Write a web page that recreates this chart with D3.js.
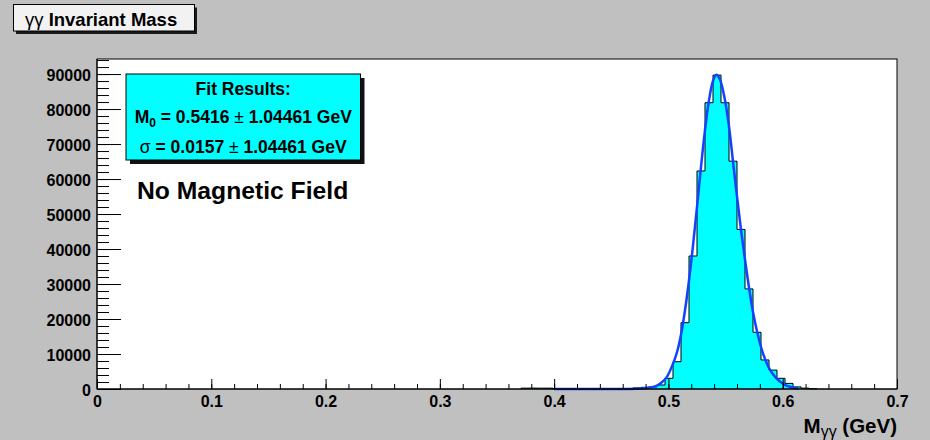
<!DOCTYPE html>
<html>
<head>
<meta charset="utf-8">
<script src="https://cdn.jsdelivr.net/npm/d3@7"></script>
<style>
  html, body { margin: 0; padding: 0; background: #c0c0c0; }
  svg { display: block; font-family: "Liberation Sans", Arial, Helvetica, sans-serif; }
</style>
</head>
<body>
<svg id="chart" width="930" height="440"></svg>
<script>
// ---- data ----
// diphoton invariant mass histogram, 0.007 GeV bins, first listed bin starts at 0.371 GeV
const binWidth = 0.007;
const firstBinLow = 0.371;
const binCounts = [
  250, 260, 240, 250, 30, 20, 20, 30, 20, 30, 40, 60, 90, 150, 300,
  480, 620, 1150, 3050, 7800, 18950, 38000, 62300, 81800, 89700, 81800,
  65100, 45600, 28600, 16200, 8300, 5400, 3050, 1600, 600, 250, 80
];

// fitted line shape (GeV, entries)
const fitMass = [
  0.400, 0.465, 0.475, 0.4825, 0.4895, 0.4935, 0.4985, 0.5035, 0.5075, 0.5110,
  0.5145, 0.5180, 0.5215, 0.5250, 0.5285, 0.5320, 0.5355, 0.5390, 0.5420, 0.5450,
  0.5495, 0.5530, 0.5565, 0.5600, 0.5635, 0.5670, 0.5705, 0.5740, 0.5775, 0.5810,
  0.5845, 0.5880, 0.5915, 0.5950, 0.5985, 0.6020, 0.6055, 0.6090, 0.6137
];
const fitCounts = [
  0, 30, 120, 350, 900, 1700, 3400, 6800, 10500, 15500,
  22500, 31000, 41000, 52000, 63500, 74000, 82500, 88000, 89800, 88500,
  82500, 75000, 65000, 55000, 45500, 37000, 29000, 22000, 16500, 12000,
  8600, 6000, 4200, 2900, 1900, 1200, 700, 380, 150
];

const xTickValues = [0, 0.1, 0.2, 0.3, 0.4, 0.5, 0.6, 0.7];
const yTickValues = [0, 10000, 20000, 30000, 40000, 50000, 60000, 70000, 80000, 90000];
const xMinorStep = 0.02;
const yMinorStep = 2000;
const xDomain = [0, 0.7];
const yDomain = [0, 94300];

const fitLines = [
  { label: "M", sub: "0", value: "0.5416", err: "1.04461" },
  { label: "σ", sub: "", value: "0.0157", err: "1.04461" }
];

// ---- layout ----
const frame = { left: 97, right: 897, top: 59, bottom: 389 };
const svg = d3.select("#chart");

const x = d3.scaleLinear().domain(xDomain).range([frame.left, frame.right]);
const y = d3.scaleLinear().domain(yDomain).range([frame.bottom, frame.top]);

// canvas background
svg.append("rect").attr("width", 930).attr("height", 440).attr("fill", "#c0c0c0");

// title pave
const title = svg.append("g");
title.append("rect").attr("x", 16).attr("y", 7.5).attr("width", 181).attr("height", 26.5).attr("fill", "#1a1a1a");
title.append("rect").attr("x", 13.5).attr("y", 4.5).attr("width", 181).attr("height", 26.5)
  .attr("fill", "#f2f2f2").attr("stroke", "#000").attr("stroke-width", 1);
const titleText = title.append("text").attr("x", 25).attr("y", 26).attr("font-size", 18.5).attr("fill", "#000");
titleText.append("tspan").attr("font-weight", "normal").text("γγ ");
titleText.append("tspan").attr("font-weight", "bold").text("Invariant Mass");

// frame
svg.append("rect")
  .attr("x", frame.left).attr("y", frame.top)
  .attr("width", frame.right - frame.left).attr("height", frame.bottom - frame.top)
  .attr("fill", "#fff");

// histogram as a filled step outline
const histPoints = [[firstBinLow, 0]];
binCounts.forEach((c, i) => {
  const lo = firstBinLow + i * binWidth;
  histPoints.push([lo, c], [lo + binWidth, c]);
});
histPoints.push([firstBinLow + binCounts.length * binWidth, 0]);

const stepLine = d3.line().x(d => x(d[0])).y(d => y(d[1]));
svg.append("path")
  .attr("d", stepLine(histPoints))
  .attr("fill", "#00ffff")
  .attr("stroke", "#000")
  .attr("stroke-width", 1);

// fit curve
const fitLine = d3.line()
  .x((d, i) => x(fitMass[i]))
  .y(d => y(d))
  .curve(d3.curveCatmullRom.alpha(0.5));
svg.append("path")
  .attr("d", fitLine(fitCounts))
  .attr("fill", "none")
  .attr("stroke", "#1440ff")
  .attr("stroke-width", 2.5)
  .attr("stroke-linejoin", "round");

// frame border
svg.append("rect")
  .attr("x", frame.left).attr("y", frame.top)
  .attr("width", frame.right - frame.left).attr("height", frame.bottom - frame.top)
  .attr("fill", "none").attr("stroke", "#000").attr("stroke-width", 1);

// axes: ticks point into the frame
const xMinor = d3.range(xDomain[0], xDomain[1] + 1e-9, xMinorStep);
const yMinor = d3.range(yDomain[0], yDomain[1], yMinorStep);

const xAxisMinor = d3.axisBottom(x).tickValues(xMinor).tickSizeInner(-5).tickSizeOuter(0).tickFormat("");
const xAxis = d3.axisBottom(x).tickValues(xTickValues).tickSizeInner(-10).tickSizeOuter(0)
  .tickPadding(7).tickFormat(d => d === 0 ? "0" : d3.format(".1f")(d));
const yAxisMinor = d3.axisLeft(y).tickValues(yMinor).tickSizeInner(-12).tickSizeOuter(0).tickFormat("");
const yAxis = d3.axisLeft(y).tickValues(yTickValues).tickSizeInner(-24).tickSizeOuter(0)
  .tickPadding(6).tickFormat(d3.format("d"));

function styleAxis(g) {
  g.select(".domain").remove();
  g.selectAll("line").attr("stroke", "#000").attr("stroke-width", 1);
  g.selectAll("text").attr("font-size", 16).attr("font-weight", "bold").attr("fill", "#000")
    .attr("font-family", "\"Liberation Sans\", Arial, Helvetica, sans-serif");
}

svg.append("g").attr("transform", `translate(0,${frame.bottom})`).call(xAxisMinor).call(styleAxis);
svg.append("g").attr("transform", `translate(0,${frame.bottom})`).call(xAxis).call(styleAxis);
svg.append("g").attr("transform", `translate(${frame.left},0)`).call(yAxisMinor).call(styleAxis);
const yg = svg.append("g").attr("transform", `translate(${frame.left},0)`).call(yAxis).call(styleAxis);
yg.selectAll("text").attr("dy", "0.42em");

// axis lines
svg.append("line").attr("x1", frame.left).attr("x2", frame.right).attr("y1", frame.bottom).attr("y2", frame.bottom)
  .attr("stroke", "#000");
svg.append("line").attr("x1", frame.left).attr("x2", frame.left).attr("y1", frame.top).attr("y2", frame.bottom)
  .attr("stroke", "#000");

// x axis title
const xTitle = svg.append("text").attr("x", frame.right).attr("y", 433).attr("text-anchor", "end")
  .attr("font-size", 20.5).attr("font-weight", "bold").attr("fill", "#000");
xTitle.append("tspan").text("M");
xTitle.append("tspan").attr("font-size", 16).attr("font-weight", "normal").attr("dy", 4).text("γγ");
xTitle.append("tspan").attr("dy", -4).text(" (GeV)");

// fit results pave
const pave = { x: 126, y: 74, w: 234.5, h: 86 };
svg.append("rect").attr("x", pave.x + 4).attr("y", pave.y + 4).attr("width", pave.w).attr("height", pave.h).attr("fill", "#111");
svg.append("rect").attr("x", pave.x).attr("y", pave.y).attr("width", pave.w).attr("height", pave.h)
  .attr("fill", "#00ffff").attr("stroke", "#000").attr("stroke-width", 1);

const cx = pave.x + pave.w / 2;
svg.append("text").attr("x", cx).attr("y", 95).attr("text-anchor", "middle")
  .attr("font-size", 17.5).attr("font-weight", "bold").attr("fill", "#000").text("Fit Results:");

const lineBaselines = [122.5, 152.5];
fitLines.forEach((f, i) => {
  const t = svg.append("text").attr("x", cx).attr("y", lineBaselines[i]).attr("text-anchor", "middle")
    .attr("font-size", 17.5).attr("font-weight", "bold").attr("fill", "#000");
  t.append("tspan").attr("font-weight", f.sub ? "bold" : "normal").text(f.label);
  if (f.sub) {
    t.append("tspan").attr("font-size", 12).attr("dy", 4).text(f.sub);
    t.append("tspan").attr("dy", -4).text(" = " + f.value + " ");
  } else {
    t.append("tspan").text(" = " + f.value + " ");
  }
  t.append("tspan").attr("font-weight", "normal").text("±");
  t.append("tspan").text(" " + f.err + " GeV");
});

// annotation
svg.append("text").attr("x", 137).attr("y", 199).attr("font-size", 24.7).attr("font-weight", "bold")
  .attr("fill", "#000").text("No Magnetic Field");
</script>
</body>
</html>
